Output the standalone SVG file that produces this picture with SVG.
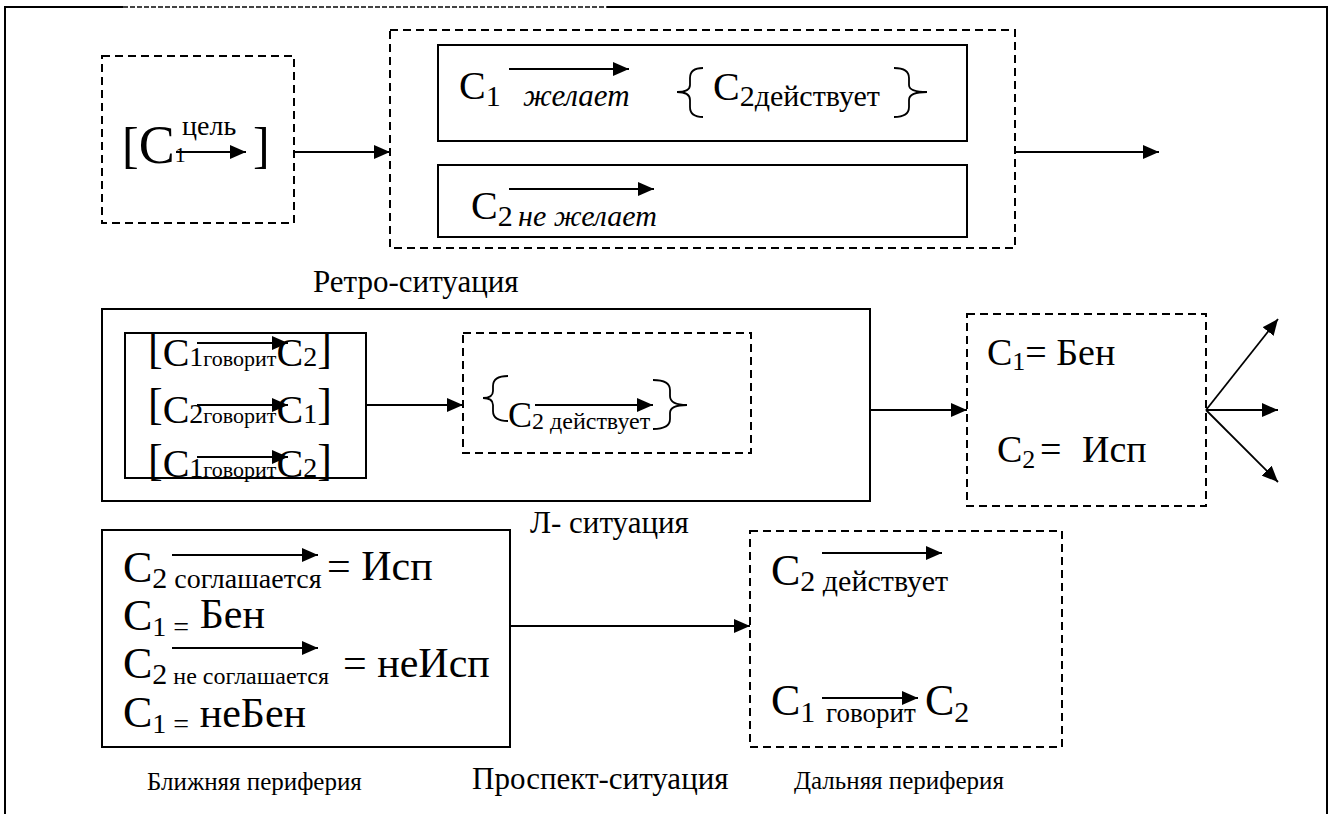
<svg xmlns="http://www.w3.org/2000/svg" width="1332" height="814" viewBox="0 0 1332 814" font-family="'Liberation Serif', 'Times New Roman', serif">
<defs>
<marker id="ah" markerUnits="userSpaceOnUse" viewBox="0 0 16 14" refX="16" refY="7" markerWidth="16" markerHeight="14" orient="auto"><path d="M0,0 L16,7 L0,14 z" fill="#000"/></marker>
<style>
text{font-family:'Liberation Serif','Times New Roman',serif;fill:#000}
.it{font-style:italic}
.box{fill:none;stroke:#000;stroke-width:2}
.dbox{fill:none;stroke:#000;stroke-width:2;stroke-dasharray:8 5}
.ar{fill:none;stroke:#000;stroke-width:1.8;marker-end:url(#ah)}
.br{fill:none;stroke:#000;stroke-width:1.8}
</style>
</defs>
<rect width="1332" height="814" fill="#fff"/>
<g id="frame">
<line x1="5" y1="7" x2="5" y2="814" stroke="#000" stroke-width="2"/>
<line x1="1327" y1="7" x2="1327" y2="814" stroke="#000" stroke-width="2"/>
<line x1="4" y1="7" x2="123" y2="7" stroke="#000" stroke-width="2"/>
<line x1="123" y1="7" x2="607" y2="7" stroke="#444" stroke-width="2" stroke-dasharray="5 2"/>
<line x1="607" y1="7" x2="1328" y2="7" stroke="#000" stroke-width="2"/>
</g>
<g id="goal">
<rect class="dbox" x="102" y="56" width="192" height="167"/>
<text x="122" y="162" font-size="50">[<tspan font-size="54" dy="1">С</tspan><tspan font-size="22" dy="-1">1</tspan></text>
<text x="182" y="135" font-size="28">цель</text>
<line class="ar" x1="176" y1="152" x2="246" y2="152"/>
<text x="253" y="162" font-size="50">]</text>
</g>
<g id="retro">
<rect class="dbox" x="390" y="30" width="625" height="218"/>
<rect class="box" x="438" y="45" width="529" height="96"/>
<rect class="box" x="438" y="165" width="529" height="72"/>
<text x="459" y="99" font-size="40">С<tspan font-size="30" dy="7">1</tspan></text>
<line class="ar" x1="509" y1="69" x2="629" y2="69"/>
<text x="523" y="106" font-size="31" class="it">желает</text>
<path class="br" d="M703,68 Q690,68 690,78 L690,85 Q690,92 677,92 Q690,92 690,100 L690,107 Q690,117 703,117"/>
<text x="713" y="100" font-size="40">С<tspan font-size="30" dy="6">2действует</tspan></text>
<path class="br" d="M894,68 Q909,68 909,78 L909,85 Q909,92 927,92 Q909,92 909,100 L909,107 Q909,117 894,117"/>
<text x="471" y="219" font-size="40">С<tspan font-size="30" dy="7">2</tspan></text>
<text x="518" y="226" font-size="30" class="it">не желает</text>
<line class="ar" x1="509" y1="189" x2="654" y2="189"/>
</g>
<g id="lsit">
<rect class="box" x="102" y="309" width="768" height="192"/>
<rect class="box" x="125" y="333" width="241" height="145"/>
<text x="148" y="363" font-size="44">[<tspan font-size="40" dy="3">С</tspan><tspan font-size="28">1</tspan><tspan font-size="22">говорит</tspan><tspan font-size="40">С</tspan><tspan font-size="28">2</tspan><tspan font-size="44" dy="-3">]</tspan></text>
<line class="ar" x1="197" y1="343" x2="288" y2="343"/>
<text x="148" y="419" font-size="44">[<tspan font-size="40" dy="4">С</tspan><tspan font-size="28">2</tspan><tspan font-size="22">говорит</tspan><tspan font-size="40">С</tspan><tspan font-size="28">1</tspan><tspan font-size="44" dy="-4">]</tspan></text>
<line class="ar" x1="197" y1="405" x2="288" y2="405"/>
<text x="148" y="475" font-size="44">[<tspan font-size="40" dy="2">С</tspan><tspan font-size="28">1</tspan><tspan font-size="22">говорит</tspan><tspan font-size="40">С</tspan><tspan font-size="28">2</tspan><tspan font-size="44" dy="-2">]</tspan></text>
<line class="ar" x1="197" y1="457" x2="288" y2="457"/>
</g>
<g id="act">
<rect class="dbox" x="463" y="333" width="288" height="120"/>
<path class="br" d="M508,376 Q493,376 493,386 L493,391 Q493,398 483,398 Q493,398 493,405 L493,411 Q493,421 508,421"/>
<text x="508" y="427" font-size="36">С<tspan font-size="24" dy="2">2 действует</tspan></text>
<line class="ar" x1="535" y1="405" x2="653" y2="405"/>
<path class="br" d="M653,380 Q670,380 670,390 L670,396 Q670,405 687,405 Q670,405 670,413 L670,419 Q670,429 653,429"/>
</g>
<g id="roles">
<rect class="dbox" x="967" y="314" width="239" height="192"/>
<text x="987" y="365" font-size="38">С<tspan font-size="26" dy="5">1</tspan><tspan dy="-5">= Бен</tspan></text>
<text x="997" y="462" font-size="38">С<tspan font-size="26" dy="6">2</tspan></text>
<text x="1040" y="462" font-size="38">=</text>
<text x="1082" y="462" font-size="38">Исп</text>
</g>
<g id="near">
<rect class="box" x="102" y="530" width="408" height="217"/>
<text x="123" y="582" font-size="44">С<tspan font-size="30" dy="6">2</tspan><tspan font-size="28"> соглашается</tspan></text>
<line class="ar" x1="172" y1="555" x2="318" y2="555"/>
<text x="327" y="580" font-size="42">= Исп</text>
<text x="123" y="630" font-size="44">С<tspan font-size="28" dy="6">1 =</tspan><tspan font-size="42" dy="-8"> Бен</tspan></text>
<text x="123" y="678" font-size="44">С<tspan font-size="30" dy="6">2</tspan><tspan font-size="24"> не соглашается</tspan></text>
<line class="ar" x1="172" y1="648" x2="318" y2="648"/>
<text x="343" y="677" font-size="42">= неИсп</text>
<text x="123" y="727" font-size="44">С<tspan font-size="28" dy="6">1 =</tspan><tspan font-size="42" dy="-6">  неБен</tspan></text>
</g>
<g id="far">
<rect class="dbox" x="750" y="531" width="312" height="216"/>
<text x="771" y="585" font-size="44">С<tspan font-size="30" dy="6">2 действует</tspan></text>
<line class="ar" x1="822" y1="553" x2="942" y2="553"/>
<text x="771" y="715" font-size="44">С<tspan font-size="30" dy="7">1</tspan></text>
<text x="826" y="722" font-size="27">говорит</text>
<text x="925" y="715" font-size="44">С<tspan font-size="30" dy="7">2</tspan></text>
<line class="ar" x1="822" y1="698" x2="918" y2="698"/>
</g>
<g id="labels">
<text x="313" y="292" font-size="31">Ретро-ситуация</text>
<text x="530" y="533" font-size="31">Л- ситуация</text>
<text x="147" y="790" font-size="25">Ближняя периферия</text>
<text x="472" y="789" font-size="31">Проспект-ситуация</text>
<text x="794" y="789" font-size="25">Дальняя периферия</text>
</g>
<g id="connectors">
<line class="ar" x1="294" y1="152" x2="390" y2="152"/>
<line class="ar" x1="1015" y1="152" x2="1159" y2="152"/>
<line class="ar" x1="366" y1="405" x2="463" y2="405"/>
<line class="ar" x1="870" y1="410" x2="967" y2="410"/>
<line class="ar" x1="1206" y1="410" x2="1278" y2="319"/>
<line class="ar" x1="1206" y1="410" x2="1278" y2="410"/>
<line class="ar" x1="1206" y1="410" x2="1278" y2="482"/>
<line class="ar" x1="510" y1="626" x2="750" y2="626"/>
</g>
</svg>
